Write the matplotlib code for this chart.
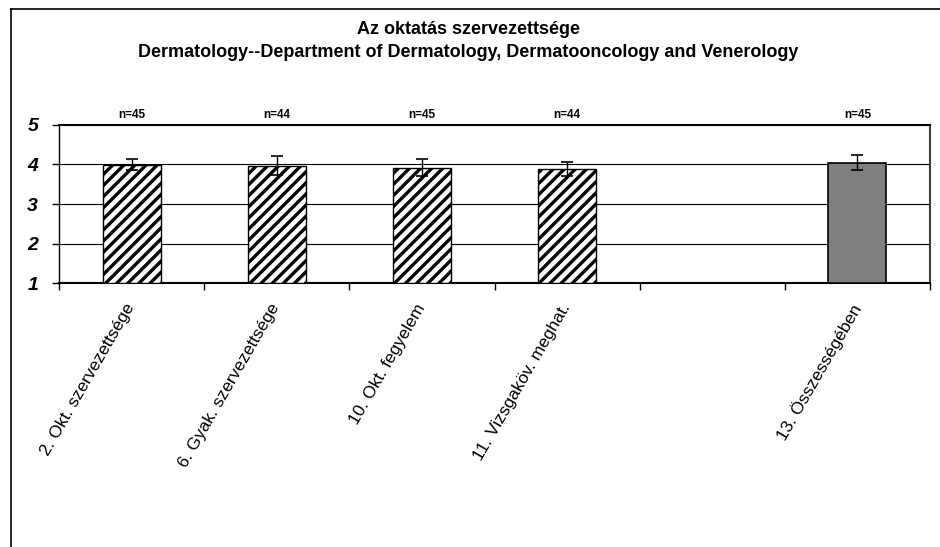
import matplotlib.pyplot as plt
import numpy as np
from matplotlib.lines import Line2D
from matplotlib.transforms import ScaledTranslation

plt.rcParams['font.family'] = ['Liberation Sans', 'DejaVu Sans']
plt.rcParams['hatch.linewidth'] = 2.4

title = 'Az oktatás szervezettsége\nDermatology--Department of Dermatology, Dermatooncology and Venerology'
categories = ['2. Okt. szervezettsége', '6. Gyak. szervezettsége', '10. Okt. fegyelem',
              '11. Vizsgaköv. meghat.', '', '13. Összességében']
means = [3.99, 3.97, 3.92, 3.89, np.nan, 4.05]
errors = [0.14, 0.24, 0.21, 0.18, np.nan, 0.2]
n_labels = ['n=45', 'n=44', 'n=45', 'n=44', '', 'n=45']
hatched = [True, True, True, True, False, False]

fig = plt.figure(figsize=(9.4, 5.47), dpi=100)
ax = fig.add_axes([0.0628, 0.4826, 0.9266, 0.2889])

x = np.arange(len(categories))
base = 1
for i in range(len(categories)):
    if np.isnan(means[i]):
        continue
    if hatched[i]:
        ax.bar(x[i], means[i] - base, bottom=base, width=0.4, color='white',
               edgecolor='black', hatch='///', linewidth=1, zorder=3)
    else:
        ax.bar(x[i], means[i] - base, bottom=base, width=0.4, color='#808080',
               edgecolor='black', linewidth=1.2, zorder=3)
    ax.errorbar(x[i], means[i], yerr=errors[i], fmt='none', ecolor='black',
                elinewidth=1, capsize=4.5, capthick=1.2, zorder=4)
    ax.text(x[i], 5.25, n_labels[i], ha='center', va='center', fontsize=8.5,
            fontweight='bold')

ax.set_xlim(-0.5, len(categories) - 0.5)
ax.set_ylim(1, 5)
ax.set_yticks([1, 2, 3, 4, 5])
ax.set_yticklabels(['1', '2', '3', '4', '5'], fontsize=14, fontweight='bold',
                   fontstyle='italic')
ax.tick_params(axis='y', length=5, width=1, pad=10, direction='out')
for yv in [2, 3, 4]:
    ax.axhline(yv, color='black', linewidth=0.8, zorder=1)

ax.set_xticks(x)
ax.set_xticklabels(categories, rotation=60, ha='right', va='top',
                   rotation_mode='anchor', fontsize=12.5)
ax.tick_params(axis='x', which='major', length=0, pad=13)
ax.set_xticks(np.arange(-0.5, len(categories)), minor=True)
ax.tick_params(axis='x', which='minor', length=5, width=1, direction='out')
shift = ScaledTranslation(-0.07, 0, fig.dpi_scale_trans)
for lbl in ax.get_xticklabels():
    lbl.set_transform(lbl.get_transform() + shift)

ax.spines['left'].set_linewidth(1)
ax.spines['bottom'].set_linewidth(1.5)
ax.spines['top'].set_linewidth(1.5)
ax.spines['right'].set_color('#404040')
ax.spines['right'].set_linewidth(1.5)

fig.text(0.498, 0.925, title, ha='center', va='center', fontsize=13,
         fontweight='bold', linespacing=1.45)

# outer chart frame (cropped at right and bottom)
fig.add_artist(Line2D([11 / 940, 11 / 940], [0, 1 - 9 / 547], color='black',
                      linewidth=1.2, transform=fig.transFigure))
fig.add_artist(Line2D([11 / 940, 1], [1 - 9 / 547, 1 - 9 / 547], color='black',
                      linewidth=1.2, transform=fig.transFigure))

fig.savefig('out.png', dpi=100)
